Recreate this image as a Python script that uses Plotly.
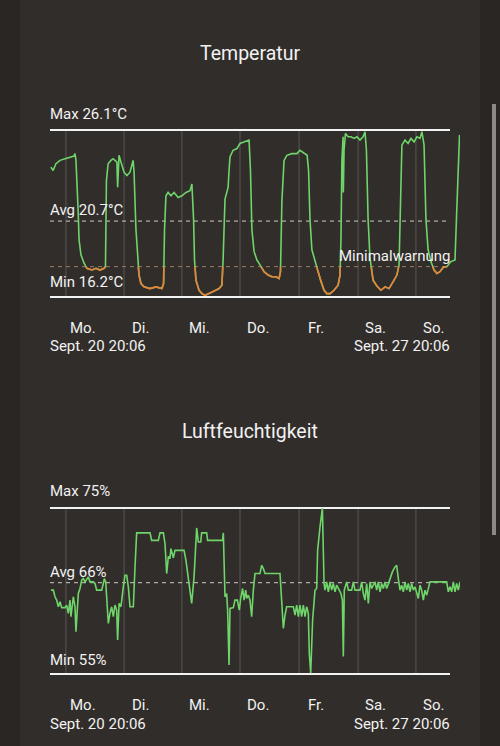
import plotly.graph_objects as go

# ---------------- data ----------------
# hours since Sept. 20 20:06
temp_hours = [0.4, 1.3, 2.5, 4.2, 6.3, 8.4, 10.1, 10.5, 10.9, 11.8, 12.2, 13.0, 14.3, 15.5, 17.6, 19.3, 21.0, 22.7, 23.3,
              23.7, 24.4, 25.6, 26.5, 27.3, 28.1, 28.4, 28.7, 29.0, 29.8, 31.1, 32.3, 33.6, 34.9, 35.3, 36.1, 36.8, 37.4,
              38.2, 39.5, 42.0, 44.5, 47.0, 47.7, 48.1, 48.7, 49.6, 50.8, 52.1, 53.8, 55.4, 57.1, 58.8, 59.6, 60.3, 60.7,
              61.3, 62.6, 63.8, 65.1, 66.8, 68.9, 71.0, 72.2, 72.7, 73.5, 74.1, 74.8, 75.2, 75.6, 76.9, 78.5, 79.8, 81.5,
              83.6, 84.2, 84.8, 85.7, 86.9, 88.2, 89.9, 91.6, 93.2, 94.9, 96.2, 96.8, 97.4, 98.3, 99.5, 101.6, 103.7,
              105.0, 106.7, 108.0, 108.6, 109.2, 110.0, 111.3, 112.6, 113.8, 115.1, 116.3, 117.6, 119.3, 121.0, 121.8,
              122.2, 122.6, 123.1, 123.2, 123.5, 124.1, 125.2, 126.4, 127.7, 128.9, 130.2, 131.5, 132.3, 132.9, 133.6,
              134.4, 135.7, 137.3, 139.0, 140.7, 142.4, 144.1, 145.7, 146.6, 147.2, 147.8, 149.1, 150.4, 151.6, 152.9,
              154.1, 155.4, 156.2, 157.1, 157.9, 158.8, 160.0, 161.3, 162.5, 163.8, 165.1, 166.7, 168.4, 170.1, 170.7,
              171.4, 172.0]
temp_values = [23.9, 23.7, 24.1, 24.3, 24.4, 24.5, 24.56, 24.7, 24.3, 21.4, 19.6, 18.7, 18.2, 17.9, 17.8, 17.9, 17.8, 17.9, 18.0,
               23.1, 24.1, 24.3, 24.4, 24.3, 24.2, 22.7, 24.2, 24.6, 24.2, 23.6, 23.4, 23.6, 24.3, 23.6, 20.2, 18.3, 17.5,
               17.0, 16.8, 16.7, 16.8, 16.7, 17.0, 20.2, 22.2, 22.4, 22.2, 22.4, 22.1, 22.2, 22.4, 22.5, 22.9, 20.8, 18.4,
               17.2, 16.6, 16.4, 16.3, 16.4, 16.55, 16.7, 16.9, 18.4, 22.0, 22.4, 22.7, 23.7, 24.5, 24.9, 25.0, 25.3, 25.4,
               25.5, 23.7, 20.2, 18.9, 18.4, 18.1, 17.7, 17.5, 17.4, 17.4, 17.3, 17.7, 21.9, 24.3, 24.6, 24.7, 24.7,
               24.9, 24.7, 24.6, 23.7, 20.8, 19.0, 18.3, 17.7, 17.1, 16.6, 16.4, 16.4, 16.6, 16.9, 17.5,
               19.6, 24.3, 25.7, 22.4, 24.9, 25.9, 25.7, 25.7, 25.6, 25.7, 25.5, 25.7, 26.0, 24.9, 20.8,
               18.5, 17.2, 16.85, 16.6, 16.8, 16.7, 17.1, 17.5, 18.1, 21.9, 25.2, 25.5, 25.3, 25.6, 25.4,
               25.7, 25.6, 26.0, 25.2, 20.8, 19.0, 18.3, 17.8, 17.6, 17.7, 17.95, 18.0, 18.3, 18.4, 20.8,
               23.7, 25.8]

hum_hours = [0.4, 1.4, 2.1, 2.8, 3.5, 4.2, 4.9, 6.3, 7.0, 7.7, 8.4, 8.8, 9.8, 10.5, 10.9, 11.9, 12.6, 13.3, 14.0, 14.7,
             16.1, 16.8, 18.2, 18.9, 19.6, 21.7, 22.4, 22.8, 23.4, 23.8, 24.5, 25.2, 25.9, 26.6, 27.3, 28.0, 28.4, 29.0,
             29.8, 30.8, 31.5, 32.2, 32.9, 33.6, 35.0, 35.7, 36.4, 42.0, 42.7, 45.5, 46.2, 47.6, 48.3, 49.0, 49.7, 50.4,
             50.8, 51.8, 52.5, 54.6, 56.3, 57.1, 58.1, 59.5, 60.5, 60.9, 61.6, 62.3, 63.3, 63.7, 65.8, 66.2, 72.5, 72.8,
             73.1, 73.5, 74.2, 74.6, 75.2, 75.6, 77.0, 77.7, 78.7, 79.5, 80.1, 80.9, 81.5, 82.2, 82.6, 83.3, 84.0, 84.7,
             85.4, 86.1, 88.2, 88.9, 89.6, 90.3, 96.6, 97.3, 98.0, 98.7, 99.4, 102.2, 102.9, 103.6, 104.3, 105.0, 105.7,
             106.4, 107.1, 107.8, 108.5, 108.9, 109.5, 110.3, 111.3, 112.0, 112.4, 113.4, 114.4, 115.1, 115.5, 116.2,
             116.9, 117.6, 118.3, 119.0, 119.7, 120.4, 121.4, 122.2, 122.8, 123.2, 123.6, 124.6, 125.3, 126.7, 127.4,
             128.1, 130.2, 130.9, 131.6, 132.3, 133.0, 133.7, 134.4, 135.1, 136.5, 137.2, 137.9, 138.6, 139.3, 140.0,
             140.7, 141.4, 142.4, 143.2, 143.8, 144.9, 145.6, 146.3, 147.0, 147.7, 148.4, 149.1, 149.8, 150.5, 151.2,
             151.9, 152.6, 153.3, 154.0, 154.7, 155.4, 156.1, 156.8, 157.5, 158.2, 159.6, 166.6, 167.3, 168.0, 168.7,
             169.4, 170.1, 170.8, 171.5, 172.2]
hum_values = [65.1, 65.1, 64.3, 63.9, 63.1, 63.7, 63.0, 63.0, 63.3, 62.3, 63.9, 61.9, 64.3, 63.1, 60.1, 64.7, 65.3, 66.3, 66.5, 66.1,
              66.7, 66.1, 66.1, 65.9, 65.1, 65.1, 65.9, 66.5, 66.1, 63.7, 61.1, 62.3, 63.1, 61.9, 63.3, 62.7, 59.1, 63.5,
              63.1, 65.5, 66.9, 66.9, 65.5, 63.1, 63.1, 67.9, 72.0, 72.0, 71.1, 71.1, 72.0, 72.0, 70.7, 67.1, 69.1, 69.0,
              70.1, 69.0, 69.9, 69.9, 69.9, 68.7, 66.7, 63.5, 66.7, 68.7, 72.6, 70.9, 70.9, 72.0, 72.0, 71.1, 71.1, 72.0,
              67.9, 64.3, 64.7, 62.7, 56.1, 62.9, 63.0, 63.9, 63.9, 62.7, 64.1, 65.3, 63.9, 65.1, 64.1, 64.5, 63.9, 61.9,
              65.1, 67.1, 67.1, 68.1, 67.7, 67.1, 67.1, 64.3, 60.5, 62.1, 63.1, 63.1, 62.1, 63.3, 61.9, 63.3, 61.9,
              63.3, 61.9, 63.1, 62.3, 57.5, 55.1, 61.5, 65.1, 65.3, 69.9, 72.7, 75.0, 65.9, 65.1, 66.1,
              64.9, 66.1, 65.1, 65.9, 64.9, 65.7, 65.1, 64.7, 63.9, 57.1, 65.1, 66.1, 65.1, 65.1, 66.1,
              65.1, 65.1, 66.1, 64.7, 63.9, 65.9, 63.5, 66.1, 65.3, 66.1, 65.1, 66.1, 64.9, 65.9, 65.3,
              66.1, 65.3, 66.1, 66.9, 67.3, 67.9, 68.1, 66.5, 65.1, 65.7, 64.9, 66.1, 65.1, 65.9, 64.9,
              65.9, 65.1, 65.5, 64.7, 64.1, 65.7, 65.1, 63.9, 65.1, 64.5, 66.1, 66.1, 64.9, 65.5, 64.9,
              66.1, 64.9, 65.9, 65.1, 66.1]

day_labels = ["Mo.", "Di.", "Mi.", "Do.", "Fr.", "Sa.", "So."]
day_grid_hours = [6.7, 31.1, 55.4, 79.8, 104.6, 129.4, 153.7]
day_label_hours = [13.9, 38.2, 62.6, 87.4, 111.7, 136.5, 160.9]
start_label = "Sept. 20 20:06"
end_label = "Sept. 27 20:06"
period_hours = 168

temp_max, temp_avg, temp_min, temp_warn = 26.1, 20.7, 16.2, 18.0
hum_max, hum_avg, hum_min = 75, 66, 55

# ---------------- style ----------------
W, H = 500, 746
BG = "#312d2a"
SIDE = "#292624"
GREEN = "#6fd46a"
ORANGE = "#e8823a"
WHITE = "#f2f2f2"
GRID = "#5a5652"
FONT = "Roboto"
LEFT_TXT, RIGHT_TXT = 48, 452


def py(p):  # pixel row -> paper y
    return 1 - p / H


def pxx(p):  # pixel col -> paper x
    return p / W


def below(xs, ys, thr):
    ox, oy = [], []
    for i in range(len(xs)):
        if i > 0:
            y0, y1 = ys[i - 1], ys[i]
            if (y0 - thr) * (y1 - thr) < 0:
                t = (thr - y0) / (y1 - y0)
                ox.append(xs[i - 1] + t * (xs[i] - xs[i - 1]))
                oy.append(thr)
        if ys[i] <= thr:
            ox.append(xs[i])
            oy.append(ys[i])
        elif ox and ox[-1] is not None:
            ox.append(None)
            oy.append(None)
    return ox, oy


fig = go.Figure()
fig.add_trace(go.Scatter(x=temp_hours, y=temp_values, mode="lines", xaxis="x", yaxis="y",
                         line=dict(color=GREEN, width=1.6), hoverinfo="skip"))
ox, oy = below(temp_hours, temp_values, temp_warn)
fig.add_trace(go.Scatter(x=ox, y=oy, mode="lines", xaxis="x", yaxis="y", connectgaps=False,
                         line=dict(color=ORANGE, width=1.6), hoverinfo="skip"))
fig.add_trace(go.Scatter(x=hum_hours, y=hum_values, mode="lines", xaxis="x2", yaxis="y2",
                         line=dict(color=GREEN, width=1.6), hoverinfo="skip"))

xrange = [0, 172.2]
xdom = [pxx(50), pxx(460)]
t_per_px = (temp_max - temp_min) / 167
h_per_px = (hum_max - hum_min) / 166

shapes = []
# side strips and scrollbar
shapes.append(dict(type="rect", xref="paper", yref="paper", x0=0, x1=pxx(20), y0=0, y1=1,
                   fillcolor=SIDE, line_width=0, layer="below"))
shapes.append(dict(type="rect", xref="paper", yref="paper", x0=pxx(480), x1=1, y0=0, y1=1,
                   fillcolor=SIDE, line_width=0, layer="below"))
shapes.append(dict(type="rect", xref="paper", yref="paper", x0=pxx(492), x1=pxx(496), y0=py(535), y1=py(104),
                   fillcolor="#8c8a88", line_width=0, layer="below"))

for xa, ya, lo, hi, avg in [("x", "y", temp_min, temp_max, temp_avg), ("x2", "y2", hum_min, hum_max, hum_avg)]:
    for g in day_grid_hours:
        shapes.append(dict(type="line", xref=xa, yref=ya, x0=g, x1=g, y0=lo, y1=hi,
                           line=dict(color=GRID, width=1), layer="below"))
    for v in (lo, hi):
        shapes.append(dict(type="line", xref=xa, yref=ya, x0=0, x1=period_hours, y0=v, y1=v,
                           line=dict(color=WHITE, width=2), layer="below"))
    shapes.append(dict(type="line", xref=xa, yref=ya, x0=0, x1=period_hours, y0=avg, y1=avg,
                       line=dict(color="#cfcac6", width=1, dash="4px,4px"), layer="below"))
shapes.append(dict(type="line", xref="x", yref="y", x0=0, x1=period_hours, y0=temp_warn, y1=temp_warn,
                   line=dict(color="#9a7a66", width=1, dash="4px,4px"), layer="below"))

ann = []


def text(s, x, y, size=15, xanchor="left", xref="paper"):
    ann.append(dict(text=s, x=x, y=y, xref=xref, yref="paper", xanchor=xanchor, yanchor="middle",
                    showarrow=False, font=dict(family=FONT, size=size, color=WHITE)))


text("Temperatur", 0.5, py(53), size=19.5, xanchor="center")
text("Luftfeuchtigkeit", 0.5, py(431), size=19.5, xanchor="center")
text(f"Max {temp_max}°C", pxx(LEFT_TXT), py(114))
text(f"Avg {temp_avg}°C", pxx(LEFT_TXT), py(210))
text(f"Min {temp_min}°C", pxx(LEFT_TXT), py(282))
text("Minimalwarnung", pxx(RIGHT_TXT), py(256), xanchor="right")
text(f"Max {hum_max}%", pxx(LEFT_TXT), py(491))
text(f"Avg {hum_avg}%", pxx(LEFT_TXT), py(572))
text(f"Min {hum_min}%", pxx(LEFT_TXT), py(660))
for ylab, ydate, xa in [(327.5, 346, "x"), (705, 723.5, "x2")]:
    for h, lab in zip(day_label_hours, day_labels):
        text(lab, h, py(ylab), xanchor="center", xref=xa)
    text(start_label, pxx(LEFT_TXT), py(ydate))
    text(end_label, pxx(RIGHT_TXT), py(ydate), xanchor="right")

axis_common = dict(showgrid=False, zeroline=False, showticklabels=False, showline=False, fixedrange=True)
fig.update_layout(
    width=W, height=H, autosize=False,
    margin=dict(l=0, r=0, t=0, b=0),
    paper_bgcolor=BG, plot_bgcolor="rgba(0,0,0,0)",
    showlegend=False,
    xaxis=dict(domain=xdom, range=xrange, anchor="y", **axis_common),
    yaxis=dict(domain=[py(302), py(125)], range=[temp_min - 5 * t_per_px, temp_max + 5 * t_per_px],
               anchor="x", **axis_common),
    xaxis2=dict(domain=xdom, range=xrange, anchor="y2", **axis_common),
    yaxis2=dict(domain=[py(679), py(503)], range=[hum_min - 5 * h_per_px, hum_max + 5 * h_per_px],
                anchor="x2", **axis_common),
    shapes=shapes,
    annotations=ann,
)
fig.write_html("out.html", config={"displayModeBar": False},
               post_script="document.body.style.margin='0';document.body.style.overflow='hidden';"
                           "document.body.style.background='" + BG + "';")
